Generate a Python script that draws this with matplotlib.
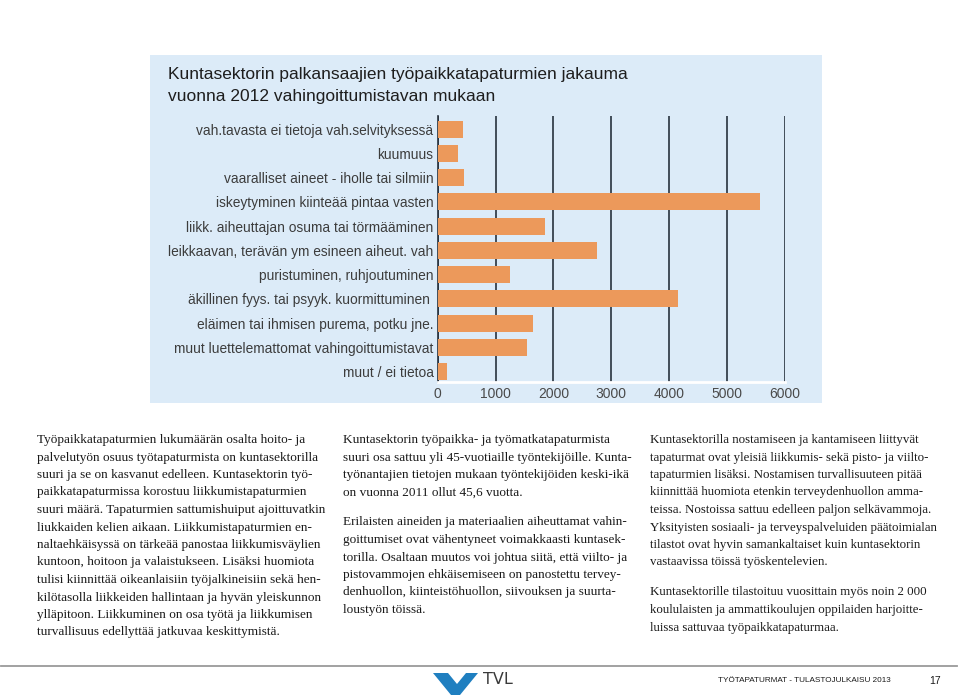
import matplotlib
matplotlib.use("Agg")
import matplotlib.pyplot as plt
from matplotlib.patches import Rectangle, Polygon

# ---------------- data ----------------
categories = [
    "vah.tavasta ei tietoja vah.selvityksessä",
    "kuumuus",
    "vaaralliset aineet - iholle tai silmiin",
    "iskeytyminen kiinteää pintaa vasten",
    "liikk. aiheuttajan osuma tai törmääminen",
    "leikkaavan, terävän ym esineen aiheut. vah",
    "puristuminen, ruhjoutuminen",
    "äkillinen fyys. tai psyyk. kuormittuminen ",
    "eläimen tai ihmisen purema, potku jne.",
    "muut luettelemattomat vahingoittumistavat",
    "muut / ei tietoa",
]
values = [440, 345, 450, 5570, 1850, 2760, 1250, 4155, 1640, 1535, 155]
xticks = [0, 1000, 2000, 3000, 4000, 5000, 6000]

title_lines = ["Kuntasektorin palkansaajien työpaikkatapaturmien jakauma",
               "vuonna 2012 vahingoittumistavan mukaan"]

col1 = [
    "Työpaikkatapaturmien lukumäärän osalta hoito- ja",
    "palvelutyön osuus työtapaturmista on kuntasektorilla",
    "suuri ja se on kasvanut edelleen. Kuntasektorin työ-",
    "paikkatapaturmissa korostuu liikkumistapaturmien",
    "suuri määrä. Tapaturmien sattumishuiput ajoittuvatkin",
    "liukkaiden kelien aikaan. Liikkumistapaturmien en-",
    "naltaehkäisyssä on tärkeää panostaa liikkumisväylien",
    "kuntoon, hoitoon ja valaistukseen. Lisäksi huomiota",
    "tulisi kiinnittää oikeanlaisiin työjalkineisiin sekä hen-",
    "kilötasolla liikkeiden hallintaan ja hyvän yleiskunnon",
    "ylläpitoon. Liikkuminen on osa työtä ja liikkumisen",
    "turvallisuus edellyttää jatkuvaa keskittymistä.",
]
col2 = [
    "Kuntasektorin työpaikka- ja työmatkatapaturmista",
    "suuri osa sattuu yli 45-vuotiaille työntekijöille. Kunta-",
    "työnantajien tietojen mukaan työntekijöiden keski-ikä",
    "on vuonna 2011 ollut 45,6 vuotta.",
    None,
    "Erilaisten aineiden ja materiaalien aiheuttamat vahin-",
    "goittumiset ovat vähentyneet voimakkaasti kuntasek-",
    "torilla. Osaltaan muutos voi johtua siitä, että viilto- ja",
    "pistovammojen ehkäisemiseen on panostettu tervey-",
    "denhuollon, kiinteistöhuollon, siivouksen ja suurta-",
    "loustyön töissä.",
]
col3 = [
    "Kuntasektorilla nostamiseen ja kantamiseen liittyvät",
    "tapaturmat ovat yleisiä liikkumis- sekä pisto- ja viilto-",
    "tapaturmien lisäksi. Nostamisen turvallisuuteen pitää",
    "kiinnittää huomiota etenkin terveydenhuollon amma-",
    "teissa. Nostoissa sattuu edelleen paljon selkävammoja.",
    "Yksityisten sosiaali- ja terveyspalveluiden päätoimialan",
    "tilastot ovat hyvin samankaltaiset kuin kuntasektorin",
    "vastaavissa töissä työskentelevien.",
    None,
    "Kuntasektorille tilastoituu vuosittain myös noin 2 000",
    "koululaisten ja ammattikoulujen oppilaiden harjoitte-",
    "luissa sattuvaa työpaikkatapaturmaa.",
]
footer_text = "TYÖTAPATURMAT - TULASTOJULKAISU 2013"
page_no = "17"

# ---------------- figure ----------------
W, H = 960, 699
fig = plt.figure(figsize=(W / 100, H / 100), dpi=100)
fig.patch.set_facecolor("white")

bg = fig.add_axes([0, 0, 1, 1], zorder=0)
bg.set_xlim(0, W)
bg.set_ylim(H, 0)
bg.axis("off")

panel_color = "#dcebf8"
bar_color = "#ec995b"
grid_color = "#27313d"

bg.add_patch(Rectangle((150, 55), 672, 348, facecolor=panel_color, edgecolor="none"))
for i, t in enumerate(title_lines):
    bg.text(168, 74 + 22 * i, t, fontsize=12.5, color="#1e1e1e",
            family="Liberation Sans", va="center", ha="left")

# chart axes
ax_l, ax_r, ax_t, ax_b = 437.7, 785.0, 116.0, 381.7
ax = fig.add_axes([ax_l / W, 1 - ax_b / H, (ax_r - ax_l) / W, (ax_b - ax_t) / H], zorder=2)
ax.set_facecolor("none")
ypos = list(range(len(categories)))
ax.barh(ypos, values, height=0.70, color=bar_color, zorder=3)
ax.set_xlim(0, 6000)
ax.set_ylim(10.41, -0.536)
ax.set_yticks(ypos)
ax.set_yticklabels(categories, fontsize=9.9, color="#3c3c3c", family="Liberation Sans")
ax.set_xticks(xticks)
ax.set_xticklabels([str(v) for v in xticks], fontsize=10, color="#4a4a4a", family="Liberation Sans")
ax.tick_params(axis="both", length=0)
ax.tick_params(axis="y", pad=3)
ax.tick_params(axis="x", pad=4)
ax.xaxis.grid(True, color=grid_color, linewidth=1.2, zorder=1)
ax.set_axisbelow(True)
for s in ("top", "right"):
    ax.spines[s].set_visible(False)
ax.spines["left"].set_color(grid_color)
ax.spines["left"].set_linewidth(1.2)
ax.spines["bottom"].set_color("white")
ax.spines["bottom"].set_linewidth(2.0)

# body text columns
serif = ["Liberation Serif", "DejaVu Serif"]
lh = 17.5
def put_column(x, y0, lines, size):
    y = y0
    for ln in lines:
        if ln is None:
            y += 12.5
            continue
        bg.text(x, y, ln, fontsize=size, family=serif, color="#1a1a1a",
                va="center", ha="left")
        y += lh
put_column(37, 440, col1, 9.5)
put_column(343, 440, col2, 9.5)
put_column(650, 440, col3, 9.3)

# footer
bg.plot([1, 957], [665.5, 665.5], color="#9a9a9a", linewidth=1.3)
bg.add_patch(Polygon([(433, 673), (448, 673), (457, 684), (466, 673), (478, 673),
                      (460, 695), (451, 695)], closed=True,
                     facecolor="#1f7fc0", edgecolor="none"))
bg.text(483, 679.5, "TVL", fontsize=11.5, color="#3a3a3a",
        family="DejaVu Sans", va="center", ha="left")
bg.text(718, 680.5, footer_text, fontsize=5.9, color="#1a1a1a",
        family="Liberation Sans", va="center", ha="left")
bg.text(929, 681, page_no, fontsize=7.5, color="#1a1a1a",
        family="Liberation Sans", va="center", ha="left")

fig.savefig("out.png", dpi=100, facecolor="white")
